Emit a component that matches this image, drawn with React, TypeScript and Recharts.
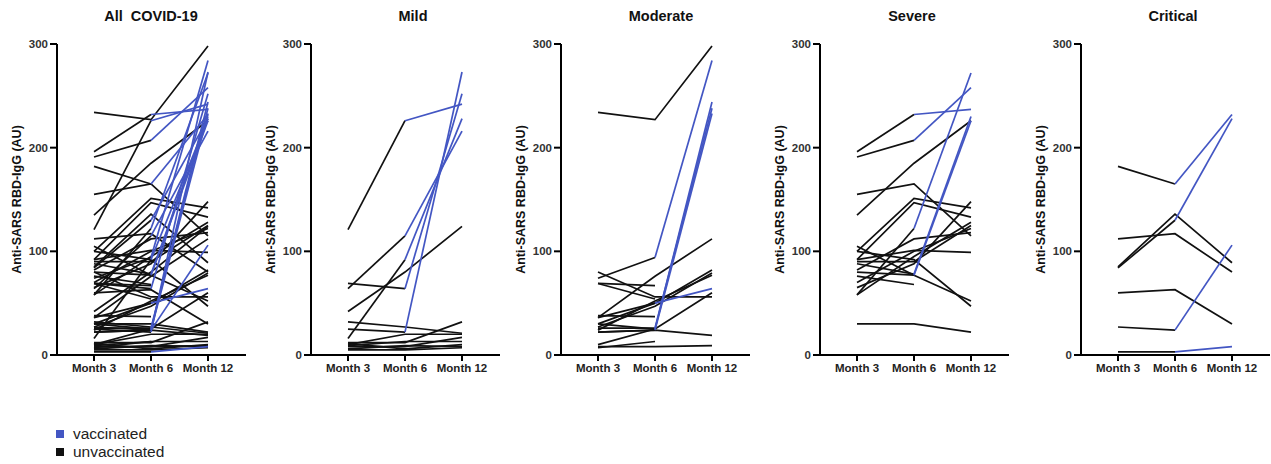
import { Label, Line, LineChart, XAxis, YAxis } from "recharts";

const MONTHS = ["Month 3", "Month 6", "Month 12"];
const Y_TICKS = [0, 100, 200, 300];
const Y_LABEL = "Anti-SARS RBD-IgG (AU)";

const BLUE = "#4356c3";
const BLACK = "#111111";
const FONT = "'Liberation Sans', Arial, sans-serif";

// [month 3, month 6, month 12, vaccinated before month 12 (1) or not (0)]
type Subject = [number | null, number | null, number | null, number];

const MILD: Subject[] = [
  [121, 226, 242, 1],
  [64, 115, 216, 1],
  [16, 92, 228, 1],
  [69, 64, 252, 1],
  [25, 22, 273, 1],
  [42, 80, 124, 0],
  [32, 27, 21, 0],
  [12, 12, 32, 0],
  [10, 20, 20, 0],
  [8, 8, 17, 0],
  [11, 6, 10, 0],
  [6, 9, 8, 0],
  [9, 13, 13, 0],
  [5, 5, 7, 0],
];

const MODERATE: Subject[] = [
  [234, 227, 298, 0],
  [74, 94, 284, 1],
  [30, 25, 244, 1],
  [26, 26, 238, 1],
  [22, 24, 233, 1],
  [36, 50, 64, 1],
  [80, 56, 56, 0],
  [69, 54, null, 0],
  [69, 67, null, 0],
  [36, 76, 112, 0],
  [30, 50, 82, 0],
  [27, 47, 79, 0],
  [24, 52, 77, 0],
  [22, 24, 19, 0],
  [38, 37, null, 0],
  [10, 25, 60, 0],
  [7, 13, null, 0],
  [8, 8, 9, 0],
];

const SEVERE: Subject[] = [
  [196, 232, 237, 1],
  [191, 207, 258, 1],
  [135, 185, 226, 0],
  [155, 165, 115, 0],
  [58, 122, 272, 1],
  [88, 78, 230, 1],
  [80, 77, 226, 1],
  [100, 151, 142, 0],
  [92, 147, 133, 0],
  [105, 77, 52, 0],
  [100, 92, 47, 0],
  [92, 101, 99, 0],
  [30, 30, 22, 0],
  [76, 68, null, 0],
  [65, 88, 148, 0],
  [58, 95, 128, 0],
  [70, 100, 122, 0],
  [82, 112, 118, 0],
  [90, 90, 125, 0],
];

const CRITICAL: Subject[] = [
  [182, 165, 232, 1],
  [84, 130, 228, 1],
  [85, 136, 89, 0],
  [112, 117, 80, 0],
  [60, 63, 30, 0],
  [27, 24, 106, 1],
  [3, 3, 8, 1],
];

const PANELS = [
  { title: "All  COVID-19", subjects: [...MILD, ...MODERATE, ...SEVERE, ...CRITICAL], left: 0, titleShift: 0 },
  { title: "Mild", subjects: MILD, left: 254, titleShift: 8 },
  { title: "Moderate", subjects: MODERATE, left: 504, titleShift: 6 },
  { title: "Severe", subjects: SEVERE, left: 763, titleShift: -2 },
  { title: "Critical", subjects: CRITICAL, left: 1024, titleShift: -2 },
];

const LEGEND = [
  { label: "vaccinated", color: BLUE },
  { label: "unvaccinated", color: BLACK },
];

const CHART_W = 246;
const CHART_H = 392;
const AXIS_W = 57;
const PLOT_TOP = 44;

function buildRows(subjects: Subject[]) {
  return MONTHS.map((month, j) => {
    const row: Record<string, string | number | null> = { month };
    subjects.forEach((s, i) => {
      if (s[3]) {
        row[`a${i}`] = j < 2 ? s[j] : null;
        row[`b${i}`] = j > 0 ? s[j] : null;
      } else {
        row[`s${i}`] = s[j];
      }
    });
    return row;
  });
}

function YLabel({ viewBox }: { viewBox?: { x: number; y: number; width: number; height: number } }) {
  const x = viewBox ? viewBox.x + viewBox.width - 40 : 17;
  const y = viewBox ? viewBox.y + viewBox.height / 2 : 200;
  return (
    <text
      x={x}
      y={y}
      transform={`rotate(-90 ${x} ${y})`}
      textAnchor="middle"
      dominantBaseline="central"
      fontSize={12.5}
      fontWeight="bold"
      fill="#111"
      fontFamily={FONT}
    >
      {Y_LABEL}
    </text>
  );
}

function Panel({
  title,
  subjects,
  left,
  titleShift,
}: {
  title: string;
  subjects: Subject[];
  left: number;
  titleShift: number;
}) {
  const rows = buildRows(subjects);
  const blackKeys = subjects.map((s, i) => (s[3] ? `a${i}` : `s${i}`));
  const blueKeys = subjects.flatMap((s, i) => (s[3] ? [`b${i}`] : []));

  return (
    <div style={{ position: "absolute", left, top: 0, width: CHART_W, height: CHART_H }}>
      <div
        style={{
          position: "absolute",
          left: AXIS_W + titleShift,
          width: 188,
          top: 8,
          textAlign: "center",
          fontWeight: "bold",
          fontSize: 14.5,
          whiteSpace: "pre",
          color: "#111",
        }}
      >
        {title}
      </div>
      <LineChart
        width={CHART_W}
        height={CHART_H}
        data={rows}
        margin={{ top: PLOT_TOP, right: 0, bottom: 0, left: 0 }}
      >
        <XAxis
          dataKey="month"
          padding={{ left: 37, right: 38 }}
          interval={0}
          height={37}
          tickSize={6}
          tickMargin={3}
          axisLine={{ stroke: "#000", strokeWidth: 2 }}
          tickLine={{ stroke: "#000", strokeWidth: 2 }}
          tick={{ fontSize: 11.5, fontWeight: "bold", fill: "#222", fontFamily: FONT }}
        />
        <YAxis
          domain={[0, 300]}
          ticks={Y_TICKS}
          width={AXIS_W}
          interval={0}
          tickSize={7}
          tickMargin={2}
          axisLine={{ stroke: "#000", strokeWidth: 2 }}
          tickLine={{ stroke: "#000", strokeWidth: 2 }}
          tick={{ fontSize: 11.5, fontWeight: "bold", fill: "#333", fontFamily: FONT }}
        >
          <Label content={<YLabel />} />
        </YAxis>
        {blackKeys.map((k) => (
          <Line
            key={k}
            dataKey={k}
            stroke={BLACK}
            strokeWidth={1.7}
            dot={false}
            activeDot={false}
            isAnimationActive={false}
          />
        ))}
        {blueKeys.map((k) => (
          <Line
            key={k}
            dataKey={k}
            stroke={BLUE}
            strokeWidth={1.7}
            dot={false}
            activeDot={false}
            isAnimationActive={false}
          />
        ))}
      </LineChart>
    </div>
  );
}

export default function App() {
  return (
    <div
      style={{
        position: "absolute",
        left: 0,
        top: 0,
        width: 1271,
        height: 464,
        overflow: "hidden",
        background: "#fff",
        fontFamily: FONT,
      }}
    >
      {PANELS.map((p) => (
        <Panel key={p.title} title={p.title} subjects={p.subjects} left={p.left} titleShift={p.titleShift} />
      ))}
      <div style={{ position: "absolute", left: 56, top: 425 }}>
        {LEGEND.map((item) => (
          <div key={item.label} style={{ display: "flex", alignItems: "center", height: 18 }}>
            <span style={{ width: 8, height: 8, background: item.color, marginRight: 9 }} />
            <span style={{ fontSize: 15.5, color: "#222", lineHeight: "18px" }}>{item.label}</span>
          </div>
        ))}
      </div>
    </div>
  );
}
